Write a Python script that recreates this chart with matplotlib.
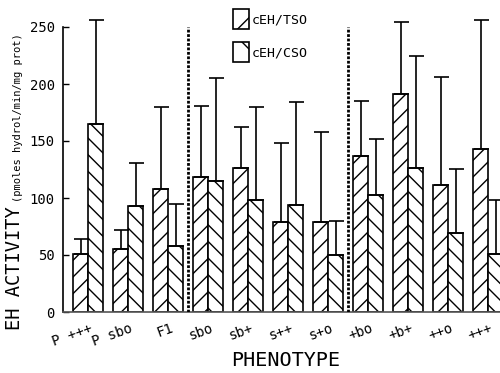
import matplotlib
matplotlib.use("Agg")
import matplotlib.pyplot as plt
import matplotlib.transforms as mtransforms
from matplotlib.patches import Patch
import numpy as np

# ---- data ----
phenotypes = ['P +++', 'P sbo', 'F1', 'sbo', 'sb+', 's++', 's+o', '+bo', '+b+', '++o', '+++']
tso_mean = [51, 55, 108, 118, 126, 79, 79, 137, 191, 111, 143]
tso_sd = [13, 17, 72, 63, 36, 69, 79, 48, 63, 95, 113]
cso_mean = [165, 93, 58, 115, 98, 94, 50, 103, 126, 69, 51]
cso_sd = [91, 38, 37, 90, 82, 90, 30, 49, 99, 56, 47]
y_ticks = [0, 50, 100, 150, 200, 250]
separators = [2.5, 6.5]
legend_labels = ['cEH/TSO', 'cEH/CSO']

MONO = 'DejaVu Sans Mono'
plt.rcParams['font.family'] = MONO
plt.rcParams['hatch.linewidth'] = 1.0

W, H = 500, 373
fig = plt.figure(figsize=(W / 100, H / 100), dpi=100)
ax = fig.add_axes([63 / W, 61 / H, (W - 63) / W, 307.8 / H])

x = np.arange(len(phenotypes))
bw = 0.375
ax.bar(x - bw / 2, tso_mean, bw, facecolor='white', edgecolor='black',
       linewidth=1.2, hatch='//', zorder=2)
ax.bar(x + bw / 2, cso_mean, bw, facecolor='white', edgecolor='black',
       linewidth=1.2, hatch='\\\\', zorder=2)
ax.errorbar(x - bw / 2, tso_mean, yerr=[np.zeros(len(x)), tso_sd], fmt='none',
            ecolor='black', elinewidth=1.2, capsize=5.4, capthick=1.2, zorder=3)
ax.errorbar(x + bw / 2, cso_mean, yerr=[np.zeros(len(x)), cso_sd], fmt='none',
            ecolor='black', elinewidth=1.2, capsize=5.4, capthick=1.2, zorder=3)

for s in separators:
    ax.plot([s, s], [0, 250], color='black', linestyle=(0, (1, 0.6)), linewidth=2.0, zorder=4)

ax.set_xlim(-0.625, 10.3)
ax.set_ylim(0, 270)
for side in ['top', 'right']:
    ax.spines[side].set_visible(False)
ax.spines['left'].set_bounds(0, 250)
ax.spines['left'].set_linewidth(1.2)
ax.spines['bottom'].set_linewidth(1.2)
ax.spines['bottom'].set_color('#555555')

ax.set_yticks(y_ticks)
ax.tick_params(axis='y', direction='in', length=4, width=1.0, pad=6, labelsize=10)
ax.set_xticks([])

trans = ax.get_xaxis_transform() + mtransforms.ScaledTranslation(0, -9 / 100, fig.dpi_scale_trans)
for xi, lab in zip(x, phenotypes):
    ax.text(xi + 2 / 40, 0, lab, transform=trans, rotation=20, ha='right', va='top',
            rotation_mode='anchor', fontsize=10, family=MONO)

fig.text(286 / W, 1 - 360 / H, 'PHENOTYPE', ha='center', va='center', fontsize=14.5, family=MONO)
fig.text(15 / W, 1 - 330 / H, 'EH ACTIVITY', rotation=90, ha='center', va='bottom',
         fontsize=13.5, family=MONO)
fig.text(18 / W, 1 - 202 / H, '(pmoles hydrol/min/mg prot)', rotation=90, ha='center',
         va='bottom', fontsize=7.5, family=MONO)

handles = [Patch(facecolor='white', edgecolor='black', hatch='/', linewidth=1.2),
           Patch(facecolor='white', edgecolor='black', hatch='\\', linewidth=1.2)]
fig.legend(handles, legend_labels, loc='upper left', bbox_to_anchor=(233 / W, 1 - 9 / H),
           frameon=False, borderpad=0, borderaxespad=0, handlelength=1.2,
           handleheight=2.0, labelspacing=0.95, handletextpad=0.25,
           prop={'family': MONO, 'size': 9.5})

fig.savefig('out.png', dpi=100)
